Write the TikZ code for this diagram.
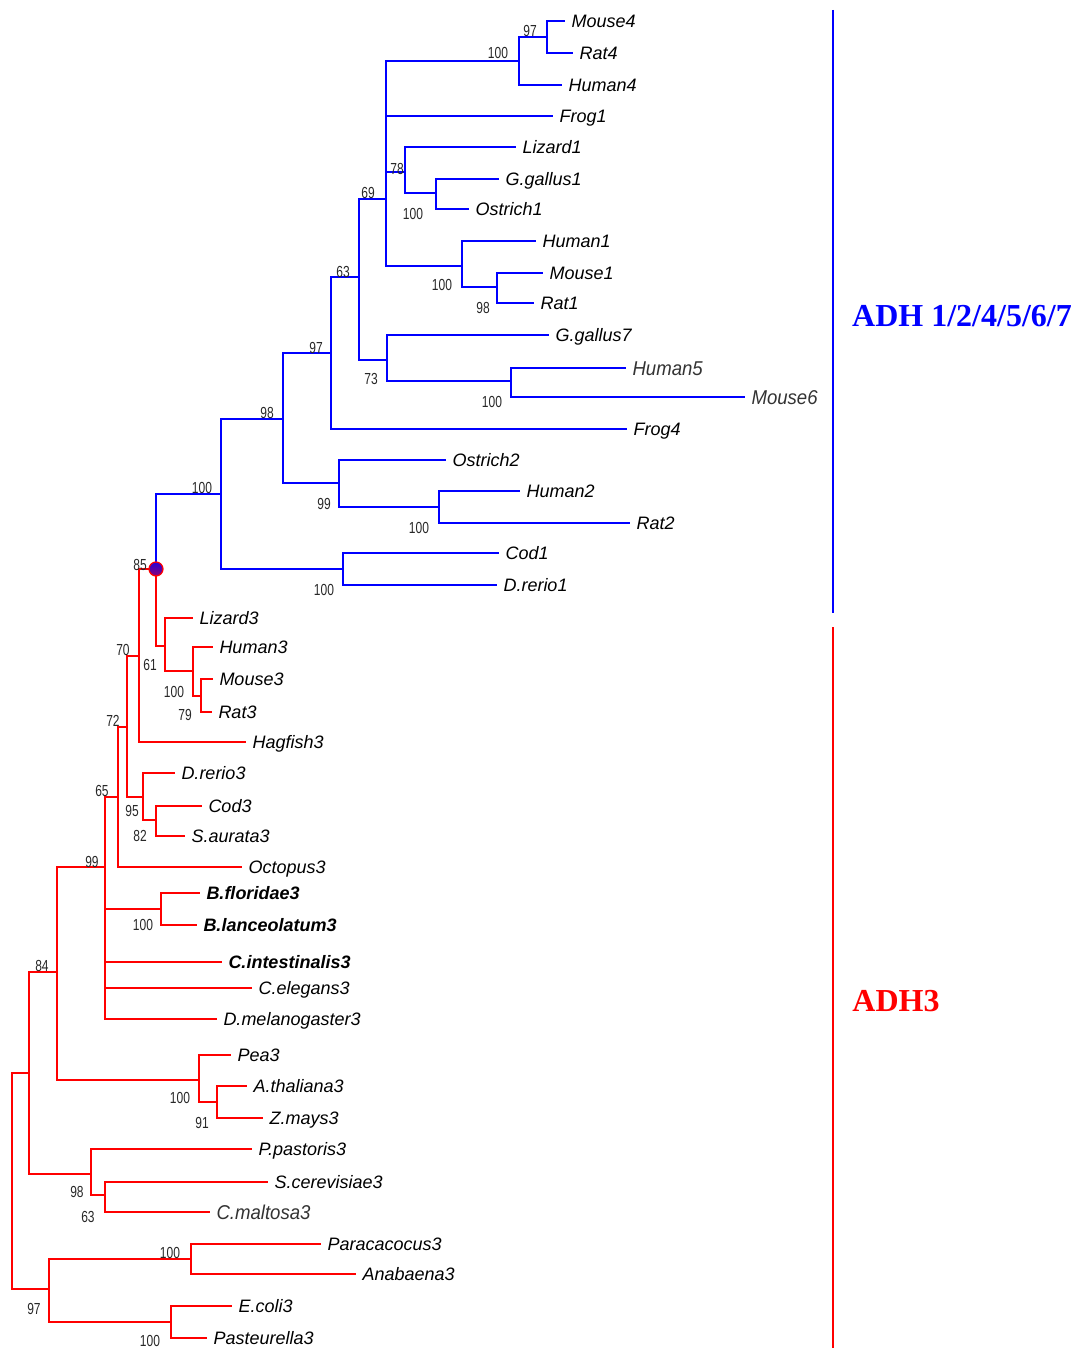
\documentclass[tikz,border=0pt]{standalone}
\usepackage{fontspec}
\setmainfont{Liberation Sans}
\newfontfamily\narrowff[FakeStretch=0.75]{Liberation Sans}
\newfontfamily\thinff[FakeStretch=0.93]{Liberation Sans}
\newfontfamily\titleff{Liberation Serif}
\definecolor{adhblue}{RGB}{0,0,255}
\definecolor{adhred}{RGB}{255,0,0}
\definecolor{bootgray}{RGB}{40,40,40}
\tikzset{
  br/.style={line width=2pt},
  blu/.style={br, draw=adhblue},
  rd/.style={br, draw=adhred},
  tip/.style={anchor=west, inner xsep=6.5pt, inner ysep=0pt, outer sep=0pt,
    text height=12.9pt, text depth=0pt, font=\fontsize{18}{18}\selectfont\itshape},
  tipb/.style={tip, font=\fontsize{18}{18}\selectfont\bfseries\itshape},
  tipt/.style={tip, text height=14.3pt, text=black!80, font=\thinff\fontsize{20}{20}\selectfont\itshape},
  boot/.style={inner sep=0pt, text=bootgray, font=\narrowff\fontsize{16}{16}\selectfont},
  clade/.style={font=\titleff\bfseries\fontsize{32}{32}\selectfont, inner sep=0pt},
}
\begin{document}
\begin{tikzpicture}[x=1pt,y=-1pt]
\useasboundingbox (0,0) rectangle (1075,1348);

% ---------------- tips (blue clade) ----------------
\node[tip] (Mouse4) at (565,21) {Mouse4};
\node[tip] (Rat4) at (573,53) {Rat4};
\node[tip] (Human4) at (562,85) {Human4};
\node[tip] (Frog1) at (553,116) {Frog1};
\node[tip] (Lizard1) at (516,147) {Lizard1};
\node[tip] (Ggallus1) at (499,179) {G.gallus1};
\node[tip] (Ostrich1) at (469,209) {Ostrich1};
\node[tip] (Human1) at (536,241) {Human1};
\node[tip] (Mouse1) at (543,273) {Mouse1};
\node[tip] (Rat1) at (534,303) {Rat1};
\node[tip] (Ggallus7) at (549,335) {G.gallus7};
\node[tipt] (Human5) at (626,368) {Human5};
\node[tipt] (Mouse6) at (745,397) {Mouse6};
\node[tip] (Frog4) at (627,429) {Frog4};
\node[tip] (Ostrich2) at (446,460) {Ostrich2};
\node[tip] (Human2) at (520,491) {Human2};
\node[tip] (Rat2) at (630,523) {Rat2};
\node[tip] (Cod1) at (499,553) {Cod1};
\node[tip] (Drerio1) at (497,585) {D.rerio1};

% ---------------- tips (red clade) ----------------
\node[tip] (Lizard3) at (193,618) {Lizard3};
\node[tip] (Human3) at (213,647) {Human3};
\node[tip] (Mouse3) at (213,679) {Mouse3};
\node[tip] (Rat3) at (212,712) {Rat3};
\node[tip] (Hagfish3) at (246,742) {Hagfish3};
\node[tip] (Drerio3) at (175,773) {D.rerio3};
\node[tip] (Cod3) at (202,806) {Cod3};
\node[tip] (Saurata3) at (185,836) {S.aurata3};
\node[tip] (Octopus3) at (242,867) {Octopus3};
\node[tipb] (Bflor3) at (200,893) {B.floridae3};
\node[tipb] (Blanc3) at (197,925) {B.lanceolatum3};
\node[tipb] (Cint3) at (222,962) {C.intestinalis3};
\node[tip] (Celeg3) at (252,988) {C.elegans3};
\node[tip] (Dmel3) at (217,1019) {D.melanogaster3};
\node[tip] (Pea3) at (231,1055) {Pea3};
\node[tip] (Athal3) at (247,1086) {A.thaliana3};
\node[tip] (Zmays3) at (263,1118) {Z.mays3};
\node[tip] (Ppast3) at (252,1149) {P.pastoris3};
\node[tip] (Scer3) at (268,1182) {S.cerevisiae3};
\node[tipt] (Cmalt3) at (210,1212) {C.maltosa3};
\node[tip] (Parac3) at (321,1244) {Paracacocus3};
\node[tip] (Anab3) at (356,1274) {Anabaena3};
\node[tip] (Ecoli3) at (232,1306) {E.coli3};
\node[tip] (Past3) at (207,1338) {Pasteurella3};

% ---------------- internal nodes (blue) ----------------
\coordinate (b97a) at (547,37);
\coordinate (b100a) at (519,61);
\coordinate (b69) at (386,199);
\coordinate (b78) at (405,172);
\coordinate (b100b) at (436,193);
\coordinate (b100d) at (462,266);
\coordinate (b98) at (497,287);
\coordinate (b63) at (359,277);
\coordinate (b73) at (387,360);
\coordinate (b100e) at (511,381);
\coordinate (b97) at (331,353);
\coordinate (b98b) at (283,419);
\coordinate (b99) at (339,483);
\coordinate (b100f) at (439,507);
\coordinate (broot) at (221,494);
\coordinate (b100g) at (343,569);
\coordinate (J) at (156,569);

% ---------------- internal nodes (red) ----------------
\coordinate (r61) at (165,646);
\coordinate (r100) at (193,671);
\coordinate (r79) at (201,696);
\coordinate (r85) at (139,656);
\coordinate (r70) at (127,727);
\coordinate (r95) at (143,797);
\coordinate (r82) at (156,820);
\coordinate (r72) at (118,797);
\coordinate (r65) at (105,867);
\coordinate (r100b) at (161,909);
\coordinate (r99) at (57,972);
\coordinate (r100c) at (199,1080);
\coordinate (r91) at (217,1102);
\coordinate (r84) at (29,1073);
\coordinate (r98) at (91,1174);
\coordinate (r63) at (105,1195);
\coordinate (rroot) at (12,1181);
\coordinate (r97) at (49,1289);
\coordinate (r100d) at (191,1259);
\coordinate (r100e) at (171,1322);

% ---------------- blue branches ----------------
\draw[blu] (b97a) |- (Mouse4.west);
\draw[blu] (b97a) |- (Rat4.west);
\draw[blu] (b100a) |- (b97a);
\draw[blu] (b100a) |- (Human4.west);
\draw[blu] (b69) |- (b100a);
\draw[blu] (b69) |- (Frog1.west);
\draw[blu] (b69) |- (b78);
\draw[blu] (b69) |- (b100d);
\draw[blu] (b78) |- (Lizard1.west);
\draw[blu] (b78) |- (b100b);
\draw[blu] (b100b) |- (Ggallus1.west);
\draw[blu] (b100b) |- (Ostrich1.west);
\draw[blu] (b100d) |- (Human1.west);
\draw[blu] (b100d) |- (b98);
\draw[blu] (b98) |- (Mouse1.west);
\draw[blu] (b98) |- (Rat1.west);
\draw[blu] (b63) |- (b69);
\draw[blu] (b63) |- (b73);
\draw[blu] (b73) |- (Ggallus7.west);
\draw[blu] (b73) |- (b100e);
\draw[blu] (b100e) |- (Human5.west);
\draw[blu] (b100e) |- (Mouse6.west);
\draw[blu] (b97) |- (b63);
\draw[blu] (b97) |- (Frog4.west);
\draw[blu] (b98b) |- (b97);
\draw[blu] (b98b) |- (b99);
\draw[blu] (b99) |- (Ostrich2.west);
\draw[blu] (b99) |- (b100f);
\draw[blu] (b100f) |- (Human2.west);
\draw[blu] (b100f) |- (Rat2.west);
\draw[blu] (broot) |- (b98b);
\draw[blu] (broot) |- (b100g);
\draw[blu] (b100g) |- (Cod1.west);
\draw[blu] (b100g) |- (Drerio1.west);
\draw[blu] (J) |- (broot);

% ---------------- red branches ----------------
\draw[rd] (J) |- (r61);
\draw[rd] (r61) |- (Lizard3.west);
\draw[rd] (r61) |- (r100);
\draw[rd] (r100) |- (Human3.west);
\draw[rd] (r100) |- (r79);
\draw[rd] (r79) |- (Mouse3.west);
\draw[rd] (r79) |- (Rat3.west);
\draw[rd] (r85) |- (J);
\draw[rd] (r85) |- (Hagfish3.west);
\draw[rd] (r70) |- (r85);
\draw[rd] (r70) |- (r95);
\draw[rd] (r95) |- (Drerio3.west);
\draw[rd] (r95) |- (r82);
\draw[rd] (r82) |- (Cod3.west);
\draw[rd] (r82) |- (Saurata3.west);
\draw[rd] (r72) |- (r70);
\draw[rd] (r72) |- (Octopus3.west);
\draw[rd] (r65) |- (r72);
\draw[rd] (r65) |- (r100b);
\draw[rd] (r65) |- (Cint3.west);
\draw[rd] (r65) |- (Celeg3.west);
\draw[rd] (r65) |- (Dmel3.west);
\draw[rd] (r100b) |- (Bflor3.west);
\draw[rd] (r100b) |- (Blanc3.west);
\draw[rd] (r99) |- (r65);
\draw[rd] (r99) |- (r100c);
\draw[rd] (r100c) |- (Pea3.west);
\draw[rd] (r100c) |- (r91);
\draw[rd] (r91) |- (Athal3.west);
\draw[rd] (r91) |- (Zmays3.west);
\draw[rd] (r84) |- (r99);
\draw[rd] (r84) |- (r98);
\draw[rd] (r98) |- (Ppast3.west);
\draw[rd] (r98) |- (r63);
\draw[rd] (r63) |- (Scer3.west);
\draw[rd] (r63) |- (Cmalt3.west);
\draw[rd] (rroot) |- (r84);
\draw[rd] (rroot) |- (r97);
\draw[rd] (r97) |- (r100d);
\draw[rd] (r97) |- (r100e);
\draw[rd] (r100d) |- (Parac3.west);
\draw[rd] (r100d) |- (Anab3.west);
\draw[rd] (r100e) |- (Ecoli3.west);
\draw[rd] (r100e) |- (Past3.west);

% junction marker
\node[circle, minimum size=14pt, inner sep=0pt, draw=adhred, line width=1.2pt,
  top color=adhblue!85!red, bottom color=red!55!blue] (jmark) at (J) {};

% ---------------- bootstrap values ----------------
\node[boot] (s1) at (530,31) {97};
\node[boot] (s2) at (498,53) {100};
\node[boot] (s3) at (397,169) {78};
\node[boot] (s4) at (413,214) {100};
\node[boot] (s5) at (368,193) {69};
\node[boot] (s6) at (442,285) {100};
\node[boot] (s7) at (483,308) {98};
\node[boot] (s8) at (343,272) {63};
\node[boot] (s9) at (371,379) {73};
\node[boot] (s10) at (492,402) {100};
\node[boot] (s11) at (316,348) {97};
\node[boot] (s12) at (267,413) {98};
\node[boot] (s13) at (324,504) {99};
\node[boot] (s14) at (419,528) {100};
\node[boot] (s15) at (202,488) {100};
\node[boot] (s16) at (324,590) {100};
\node[boot] (s17) at (140,565) {85};
\node[boot] (s18) at (123,650) {70};
\node[boot] (s19) at (150,665) {61};
\node[boot] (s20) at (174,692) {100};
\node[boot] (s21) at (185,715) {79};
\node[boot] (s22) at (113,721) {72};
\node[boot] (s23) at (102,791) {65};
\node[boot] (s24) at (132,811) {95};
\node[boot] (s25) at (140,836) {82};
\node[boot] (s26) at (92,862) {99};
\node[boot] (s27) at (143,925) {100};
\node[boot] (s28) at (42,966) {84};
\node[boot] (s29) at (180,1098) {100};
\node[boot] (s30) at (202,1123) {91};
\node[boot] (s31) at (77,1192) {98};
\node[boot] (s32) at (88,1217) {63};
\node[boot] (s33) at (170,1253) {100};
\node[boot] (s34) at (34,1309) {97};
\node[boot] (s35) at (150,1341) {100};

% ---------------- clade bars and names ----------------
\coordinate (bt) at (833,10);
\coordinate (bb) at (833,613);
\coordinate (rt) at (833,627);
\coordinate (rb) at (833,1348);
\draw[blu] (bt) -- (bb);
\draw[rd] (rt) -- (rb);
\node[clade, text=adhblue] (adh1) at (962,316) {ADH 1/2/4/5/6/7};
\node[clade, text=adhred] (adh3) at (896,1001) {ADH3};
\end{tikzpicture}
\end{document}
